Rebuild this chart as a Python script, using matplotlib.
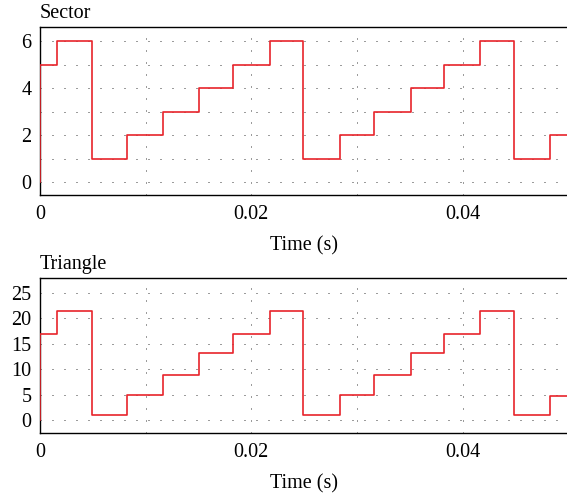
import matplotlib
matplotlib.use("Agg")
import matplotlib.pyplot as plt
import numpy as np

# transition times (s) and step values
times = [0.0, 0.00158, 0.00495, 0.0082, 0.01166, 0.01507, 0.01828, 0.02175,
         0.0249, 0.02837, 0.03162, 0.03508, 0.03824, 0.0417, 0.04492, 0.04832]
sector = [5, 6, 1, 2, 3, 4, 5, 6, 1, 2, 3, 4, 5, 6, 1, 2]
triangle = [17.0, 21.4, 1.0, 4.9, 8.8, 13.1, 17.0, 21.4, 1.0, 4.9, 8.8, 13.1, 17.0, 21.4, 1.0, 4.7]
t_end = 0.05

xticks = [0, 0.02, 0.04]
xtick_labels = ["0", "0.02", "0.04"]
sector_yticks = [0, 2, 4, 6]
triangle_yticks = [0, 5, 10, 15, 20, 25]

plt.rcParams['font.family'] = ['Liberation Serif', 'DejaVu Serif']
plt.rcParams['font.size'] = 14.5

W, H = 567, 496
fig = plt.figure(figsize=(W / 100, H / 100), dpi=100)

red = '#e8242b'
grid_col = '#3a3a3a'


def make_ax(top_px, bot_px, title, vals, yticks, ygrid, ylim):
    ax = fig.add_axes([40 / W, 1 - bot_px / H, (W - 40) / W + 0.002, (bot_px - top_px) / H])
    xs = [times[0]] + times + [t_end]
    ys = [0] + vals + [vals[-1]]
    ax.step(xs, ys, where='post', color=red, lw=1.2, zorder=3)
    ax.set_xlim(0, t_end)
    ax.set_ylim(*ylim)
    for g in ygrid:
        ax.axhline(g, color=grid_col, lw=0.72, ls=(0, (1, 11)), zorder=1)
    for g in [0.01, 0.02, 0.03, 0.04]:
        ax.axvline(g, color=grid_col, lw=0.72, ls=(0, (1, 11)), zorder=1)
    ax.set_xticks(xticks)
    ax.set_xticklabels(xtick_labels)
    ax.set_yticks(yticks)
    ax.tick_params(length=0, pad=6, labelsize=14.5)
    ax.tick_params(axis='x', pad=7)
    ax.spines['right'].set_visible(False)
    for s in ['left', 'top', 'bottom']:
        ax.spines[s].set_linewidth(1.0)
    ax.set_xlabel('Time (s)', fontsize=14.5, labelpad=9)
    ax.text(0, 1.025, title, transform=ax.transAxes, ha='left', va='bottom', fontsize=14.5)
    return ax


make_ax(27, 195, 'Sector', sector, sector_yticks, [0, 1, 2, 3, 4, 5, 6], (-0.55, 6.6))
make_ax(278, 433, 'Triangle', triangle, triangle_yticks, [0, 5, 10, 15, 20, 25], (-2.5, 27.9))

fig.savefig('out.png', dpi=100)
